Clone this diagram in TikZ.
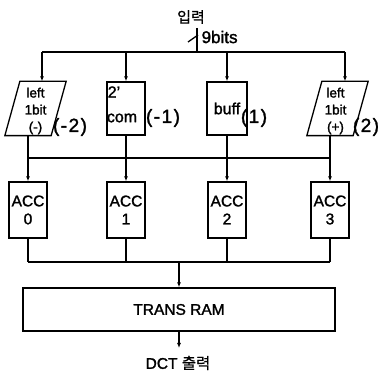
\documentclass[tikz,border=0pt]{standalone}
\usepackage{fontspec}
\setmainfont{Liberation Sans}[FakeBold=1.6]
\newfontfamily\kr{Noto Sans CJK KR}[FakeBold=1.0]
\usetikzlibrary{arrows.meta}
\begin{document}
\begin{tikzpicture}[x=1pt,y=1pt,line width=1.3pt,
  arr/.style={-{Latex[length=5pt,width=4pt]}},
  blk/.style={draw,rectangle,inner sep=0pt,align=center},
  pgram/.style={rectangle,inner sep=0pt,minimum width=45pt,minimum height=53pt},
  ptext/.style={inner sep=0pt,align=center,font=\fontsize{13.5}{17}\selectfont},
  tag/.style={inner sep=0pt,font=\fontsize{19}{20}\selectfont\addfontfeature{LetterSpace=8}},
  accbox/.style={blk,minimum width=38pt,minimum height=56pt,font=\fontsize{15.5}{18}\selectfont},
  lbl/.style={inner sep=0pt,font=\fontsize{15.5}{18}\selectfont}]
\useasboundingbox (0,0) rectangle (378,372);

% input
\node[lbl,font=\kr\fontsize{15}{18}\selectfont] (in) at (191,355) {입력};
\coordinate (inTop) at (197,344);
\coordinate (bc) at (197,320);
\draw (inTop) -- (bc);
\coordinate (sl1) at (188,330);
\coordinate (sl2) at (198,337);
\draw (sl1) -- (sl2);
\node[lbl,anchor=west,font=\fontsize{17}{18}\selectfont] (w) at (201,335) {9bits};

% first row
\node[pgram] (b1) at (35.5,263.5) {};
\draw ([xshift=-7.5]b1.south west) -- ([xshift=-7.5]b1.south east) -- ([xshift=7.5]b1.north east) -- ([xshift=7.5]b1.north west) -- cycle;
\node[ptext] (b1t) at (35.5,261) {left\\1bit\\(-)};
\node[blk,minimum width=38pt,minimum height=53pt] (b2) at (126,263.5) {};
\node[inner sep=0pt,font=\fontsize{16}{18}\selectfont] (b2a) at (114,280) {2'};
\node[inner sep=0pt,font=\fontsize{16}{18}\selectfont] (b2b) at (122,254) {com};
\node[blk,minimum width=40pt,minimum height=53pt,font=\fontsize{16}{18}\selectfont] (b3) at (227,263.5) {buff};
\node[pgram] (b4) at (337.5,263.5) {};
\draw ([xshift=-7.5]b4.south west) -- ([xshift=-7.5]b4.south east) -- ([xshift=7.5]b4.north east) -- ([xshift=7.5]b4.north west) -- cycle;
\node[ptext] (b4t) at (335.5,261) {left\\1bit\\(+)};

\node[tag] (t1) at (70,245) {(-2)};
\node[tag] (t2) at (163,254) {(-1)};
\node[tag] (t3) at (254,254) {(1)};
\node[tag] (t4) at (366,245) {(2)};

% top bus
\coordinate (bL) at (42,320);
\coordinate (bR) at (345,320);
\draw (bL) -- (bR);
\draw[arr] (bL) -- (bL |- b1.north);
\draw[arr] (b2.north |- bL) -- (b2.north);
\draw[arr] (b3.north |- bL) -- (b3.north);
\draw[arr] (bR) -- (bR |- b4.north);

% accumulators
\node[accbox] (a0) at (28,162) {ACC\\0};
\node[accbox] (a1) at (126,162) {ACC\\1};
\node[accbox] (a2) at (227,162) {ACC\\2};
\node[accbox] (a3) at (330,162) {ACC\\3};

% middle bus
\coordinate (mL) at (28,214);
\coordinate (mR) at (330,214);
\coordinate (o1) at ([xshift=-7.5]b1.south);
\coordinate (o4) at ([xshift=-7.5]b4.south);
\draw (o1) -- (o1 |- mL);
\draw (b2.south) -- (b2.south |- mL);
\draw (b3.south) -- (b3.south |- mL);
\draw (o4) -- (o4 |- mL);
\draw (mL) -- (mR);
\draw[arr] (a0.north |- mL) -- (a0.north);
\draw[arr] (a1.north |- mL) -- (a1.north);
\draw[arr] (a2.north |- mL) -- (a2.north);
\draw[arr] (a3.north |- mL) -- (a3.north);

% bottom bus
\coordinate (nL) at (28,110);
\coordinate (nR) at (330,110);
\draw (a0.south) -- (a0.south |- nL);
\draw (a1.south) -- (a1.south |- nL);
\draw (a2.south) -- (a2.south |- nL);
\draw (a3.south) -- (a3.south |- nL);
\draw (nL) -- (nR);

\node[blk,minimum width=312pt,minimum height=43pt,font=\fontsize{15.5}{18}\selectfont] (ram) at (179,62.5) {TRANS RAM};
\coordinate (nC) at (179,110);
\draw[arr] (nC) -- (ram.north);
\coordinate (outEnd) at (179,24);
\draw[arr] (ram.south) -- (outEnd);
\node[lbl] (out) at (178,9) {DCT {\kr 출력}};
\end{tikzpicture}
\end{document}
